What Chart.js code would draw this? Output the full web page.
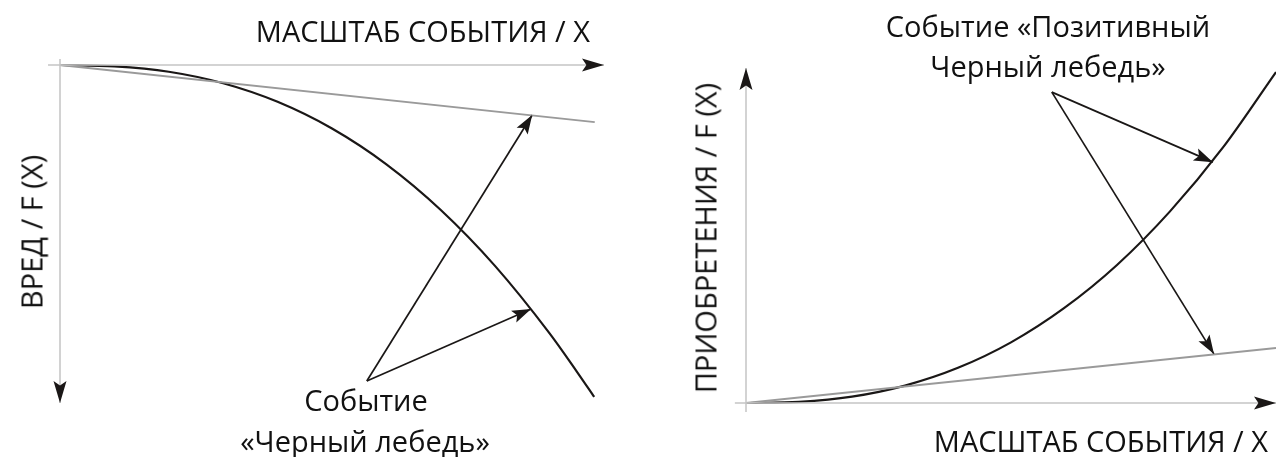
<!DOCTYPE html>
<html>
<head>
<meta charset="utf-8">
<script src="https://cdn.jsdelivr.net/npm/chart.js@4"></script>
<style>
  body { margin: 0; background: #fff; }
  #wrap { position: relative; width: 1276px; height: 457px; overflow: hidden; }
  canvas { position: absolute; top: 0; }
  .lbl { position: absolute; font-family: "Open Sans", sans-serif; font-size: 29px; font-weight: 500; color: #111;
         white-space: nowrap; line-height: 1; transform-origin: center; }
</style>
</head>
<body>
<div id="wrap">
  <canvas id="harm" width="638" height="457" style="left:0"></canvas>
  <canvas id="gain" width="638" height="457" style="left:638px"></canvas>

  <div class="lbl" style="right:686px; top:16px;">МАСШТАБ СОБЫТИЯ / X</div>
  <div class="lbl" style="left:31px; top:232px; transform:translate(-50%,-50%) rotate(-90deg);">ВРЕД / F (X)</div>
  <div class="lbl" style="left:366px; top:385px; transform:translateX(-50%);">Событие</div>
  <div class="lbl" style="left:365px; top:426px; transform:translateX(-50%);">«Черный лебедь»</div>

  <div class="lbl" style="left:1048px; top:11px; transform:translateX(-50%);">Событие «Позитивный</div>
  <div class="lbl" style="left:1048px; top:51px; transform:translateX(-50%);">Черный лебедь»</div>
  <div class="lbl" style="left:705px; top:238px; transform:translate(-50%,-50%) rotate(-90deg);">ПРИОБРЕТЕНИЯ / F (X)</div>
  <div class="lbl" style="right:8px; top:426px;">МАСШТАБ СОБЫТИЯ / X</div>
</div>

<script>
// левый график: вред (ось вниз)
const harmX = [0, 1, 2, 3, 4, 5, 6, 7, 8, 9, 9.5, 9.82];
const harmY = [0, 0.04, 0.2, 0.54, 1.09, 1.88, 2.94, 4.29, 5.95, 7.94, 9.07, 9.82];
const harmLineX = [0, 9.83];
const harmLineY = [0, 1.69];
const harmTail = [5.64, 9.35];
const harmTips = [[8.68, 1.48], [8.66, 7.22]];
const harmAxisX = [-0.22, 10];
const harmAxisY = [-0.18, 10];

// правый график: приобретения
const gainX = [0, 1, 2, 3, 4, 5, 6, 7, 8, 9, 10];
const gainY = [0, 0.035, 0.19, 0.52, 1.05, 1.81, 2.83, 4.12, 5.72, 7.63, 9.88];
const gainLineX = [0, 10];
const gainLineY = [0, 1.64];
const gainTail = [5.77, 9.28];
const gainTips = [[8.81, 7.19], [8.83, 1.46]];
const gainAxisX = [-0.21, 10];
const gainAxisY = [-0.27, 10];

const INK = '#1a1716';
const pts = (xs, ys) => xs.map((x, i) => ({ x: x, y: ys[i] }));

const arrowHeads = {
  id: 'arrowHeads',
  afterDatasetsDraw(chart) {
    const ctx = chart.ctx;
    chart.data.datasets.forEach((ds, i) => {
      if (!ds.head) return;
      const el = chart.getDatasetMeta(i).data;
      const a = el[el.length - 2], b = el[el.length - 1];
      const ang = Math.atan2(b.y - a.y, b.x - a.x);
      const L = ds.head[0], W = ds.head[1];
      ctx.save();
      ctx.translate(b.x, b.y);
      ctx.rotate(ang);
      ctx.beginPath();
      ctx.moveTo(0, 0);
      ctx.lineTo(-L, -W);
      ctx.lineTo(-L * 0.8, 0);
      ctx.lineTo(-L, W);
      ctx.closePath();
      ctx.fillStyle = INK;
      ctx.fill();
      ctx.restore();
    });
  }
};

function axisSets(ax, ay) {
  return [
    { data: pts(ax, [0, 0]), borderColor: '#c4c4c4', borderWidth: 1.5, head: [22, 6.5] },
    { data: pts([0, 0], ay), borderColor: '#c4c4c4', borderWidth: 1.5, head: [22, 6.5] }
  ];
}

function arrowSets(tail, tips) {
  return tips.map(t => ({
    data: [{ x: tail[0], y: tail[1] }, { x: t[0], y: t[1] }],
    borderColor: INK, borderWidth: 1.7, head: [19, 6.5]
  }));
}

function makeChart(id, pad, rev, datasets) {
  datasets.forEach(d => { d.showLine = true; d.clip = false; d.pointRadius = 0; });
  return new Chart(document.getElementById(id), {
    type: 'scatter',
    data: { datasets: datasets },
    options: {
      responsive: false,
      animation: false,
      devicePixelRatio: 1,
      layout: { padding: pad },
      plugins: { legend: { display: false }, tooltip: { enabled: false } },
      scales: {
        x: { type: 'linear', min: 0, max: 10, display: false },
        y: { type: 'linear', min: 0, max: 10, reverse: rev, display: false }
      }
    },
    plugins: [arrowHeads]
  });
}

makeChart('harm', { left: 60, right: 34, top: 65, bottom: 54 }, true, [
  ...axisSets(harmAxisX, harmAxisY),
  { data: pts(harmLineX, harmLineY), borderColor: '#9a9a9a', borderWidth: 2 },
  { data: pts(harmX, harmY), borderColor: INK, borderWidth: 2.2, cubicInterpolationMode: 'monotone' },
  ...arrowSets(harmTail, harmTips)
]);

makeChart('gain', { left: 108, right: 0, top: 68, bottom: 54 }, false, [
  ...axisSets(gainAxisX, gainAxisY),
  { data: pts(gainLineX, gainLineY), borderColor: '#9a9a9a', borderWidth: 2 },
  { data: pts(gainX, gainY), borderColor: INK, borderWidth: 2.2, cubicInterpolationMode: 'monotone' },
  ...arrowSets(gainTail, gainTips)
]);
</script>
</body>
</html>
